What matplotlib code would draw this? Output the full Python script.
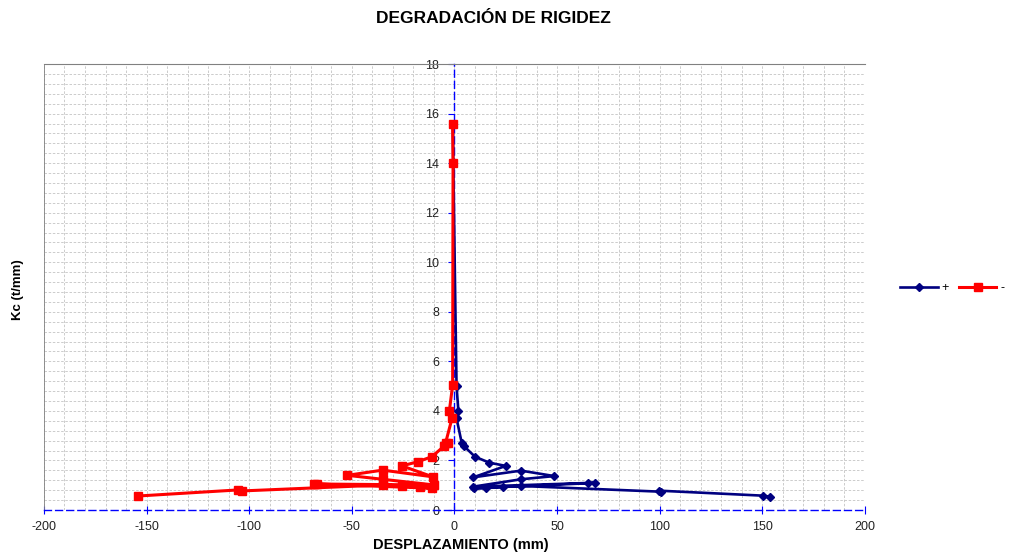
import numpy as np
import matplotlib
matplotlib.use("Agg")
from matplotlib import pyplot as plt
from matplotlib.ticker import MultipleLocator

plt.rcParams['font.family'] = ['Liberation Sans', 'DejaVu Sans']
plt.rcParams['axes.unicode_minus'] = False

# stiffness per cycle, positive direction
x_pos = [-0.8, -0.6, 1.0, 1.9, 1.0, 3.5, 4.6, 10.0, 17.0, 25.0, 9.2, 32.4, 48.6,
         32.4, 8.9, 68.4, 65.2, 9.5, 15.3, 23.8, 32.4, 100.4, 99.8, 150.1, 153.7]
k_pos = [15.6, 14.0, 5.0, 4.0, 3.7, 2.72, 2.58, 2.15, 1.91, 1.78, 1.32, 1.59, 1.37,
         1.24, 0.94, 1.10, 1.08, 0.88, 0.88, 0.94, 0.97, 0.74, 0.78, 0.58, 0.54]

# stiffness per cycle, negative direction
x_neg = [-0.9, -0.7, -0.9, -2.5, -1.2, -4.3, -3.0, -5.0, -11.1, -17.8, -25.6, -10.6,
         -35.0, -52.2, -35.0, -9.8, -68.4, -67.0, -11.1, -16.8, -25.7, -34.7,
         -103.5, -105.5, -154.2]
k_neg = [15.58, 14.0, 5.04, 4.0, 3.7, 2.72, 2.72, 2.58, 2.15, 1.95, 1.78, 1.34,
         1.61, 1.40, 1.24, 1.01, 1.05, 1.05, 0.88, 0.92, 0.97, 1.01,
         0.77, 0.81, 0.565]

fig = plt.figure(figsize=(10.13, 5.54), dpi=100)
ax = fig.add_axes([0.0434, 0.0794, 0.8105, 0.805])

ax.plot(x_pos, k_pos, color='#000080', lw=1.9, marker='D', ms=3.8, label='+', zorder=3)
ax.plot(x_neg, k_neg, color='#ff0000', lw=2.2, marker='s', ms=5.5, label='-', zorder=4)

ax.set_xlim(-200, 200)
ax.set_ylim(0, 18)
ax.xaxis.set_major_locator(MultipleLocator(50))
ax.xaxis.set_minor_locator(MultipleLocator(10))
ax.yaxis.set_major_locator(MultipleLocator(2))
ax.yaxis.set_minor_locator(MultipleLocator(0.4))
ax.grid(which='both', color='#c4c4c4', ls=(0, (3, 2)), lw=0.6)
ax.set_axisbelow(True)

# y axis crosses at x = 0, drawn dashed blue like the x axis
ax.spines['left'].set_position(('data', 0))
for s in ('left', 'bottom'):
    ax.spines[s].set_color('#0000ff')
    ax.spines[s].set_linestyle((0, (5, 3)))
    ax.spines[s].set_linewidth(1.0)
ax.spines['right'].set_visible(False)
ax.spines['top'].set_color('#808080')
ax.axvline(-200, color='#808080', lw=1.2, zorder=1)

ax.tick_params(which='major', color='#0000ff', labelsize=9, labelcolor='#222222')
ax.tick_params(axis='x', which='major', direction='inout', length=6, pad=5)
ax.tick_params(axis='y', which='major', direction='out', length=4, pad=7)
ax.tick_params(which='minor', length=0)

fig.text(0.487, 0.967, 'DEGRADACIÓN DE RIGIDEZ', ha='center', va='center',
         fontsize=12.5, fontweight='bold')
fig.text(0.455, 0.016, 'DESPLAZAMIENTO (mm)', ha='center', va='center',
         fontsize=10.5, fontweight='bold')
fig.text(0.018, 0.477, 'Kc (t/mm)', ha='center', va='center', rotation=90,
         fontsize=9.5, fontweight='bold')

fig.legend(loc='center', bbox_to_anchor=(0.94, 0.48), ncol=2, frameon=False,
           fontsize=9, handlelength=3, columnspacing=0.8, handletextpad=0.3)

fig.savefig('out.png', dpi=100)
